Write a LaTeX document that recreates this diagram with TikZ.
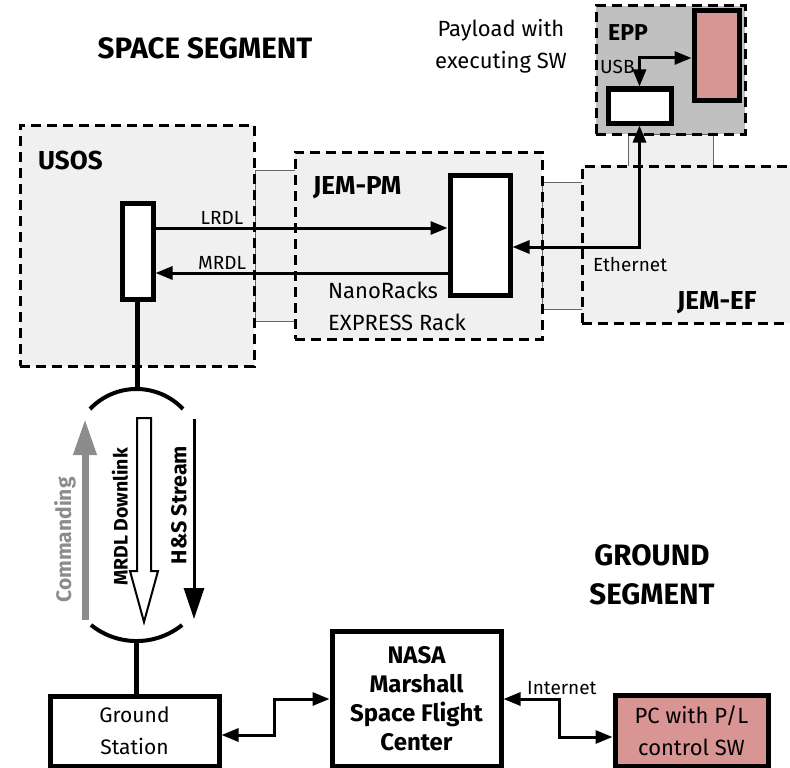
\documentclass[tikz,border=0pt]{standalone}
\usepackage{fontspec}
\setmainfont{Fira Sans}
\usetikzlibrary{arrows.meta}

\definecolor{bgbox}{HTML}{F0F0F0}
\definecolor{eppgray}{HTML}{C0C0C0}
\definecolor{plpink}{HTML}{D99494}
\definecolor{cmdgray}{HTML}{8C8C8C}

\tikzset{
	zone/.style={draw, line width=3pt, dash pattern=on 10pt off 6pt, fill=bgbox, inner sep=0pt},
	hwbox/.style={draw, line width=5pt, fill=white, inner sep=0pt},
	gbox/.style={draw, line width=5pt, fill=white, align=center, inner sep=0pt, font=\fontsize{21}{32}\selectfont},
	gasket/.style={draw=black!60, line width=1pt, fill=bgbox},
	conn/.style={line width=3pt},
	headtxt/.style={font=\bfseries\fontsize{29.5}{39}\selectfont, inner sep=0pt, align=center},
	zonetxt/.style={font=\bfseries\fontsize{26}{28}\selectfont, inner sep=0pt, anchor=west},
	txt/.style={font=\fontsize{22}{32}\selectfont, inner sep=0pt},
	lbl/.style={font=\fontsize{19}{20}\selectfont, inner sep=0pt},
	vtxt/.style={font=\bfseries\fontsize{21}{24}\selectfont, rotate=90, inner sep=0pt}
}

\begin{document}
\begin{tikzpicture}[x=1pt, y=-1pt, >={Triangle[length=17pt,width=13pt]}]
\useasboundingbox (0,0) rectangle (790,768);
\clip (0,0) rectangle (790,768);

\draw[gasket] (255,170) rectangle (295,321);
\draw[gasket] (542,182) rectangle (582,309);
\draw[gasket] (628,134) rectangle (713,166);

\node[zone, minimum width=234pt, minimum height=241pt] (usos) at (137,245.5) {};
\node[zone, minimum width=247pt, minimum height=187pt] (jempm) at (418.5,245.5) {};
\node[zone, minimum width=248pt, minimum height=157pt] (jemef) at (706,244.5) {};
\node[zone, fill=eppgray, minimum width=149pt, minimum height=128pt] (epp) at (670.5,70) {};

\node[hwbox, minimum width=31pt, minimum height=96pt] (usosunit) at (137.5,251) {};
\node[hwbox, minimum width=60pt, minimum height=120pt] (nrunit) at (480,235) {};
\node[hwbox, minimum width=63pt, minimum height=34pt] (eppunit) at (639.5,106) {};
\node[hwbox, fill=plpink, minimum width=45pt, minimum height=89pt] (payload) at (716.5,55.5) {};

\node[gbox, minimum width=169pt, minimum height=70pt] (gs) at (134.5,731) {Ground\\Station};
\node[gbox, font=\bfseries\fontsize{24}{29}\selectfont, minimum width=169pt, minimum height=135pt] (msfc) at (416.5,698.5) {NASA\\Marshall\\Space Flight\\Center};
\node[gbox, fill=plpink, font=\fontsize{22}{32}\selectfont, minimum width=153pt, minimum height=71pt] (pc) at (691.5,730.5) {PC with P/L\\control SW};

\draw[conn, ->] (usosunit.east |- 0,228) -- (nrunit.west |- 0,228);
\draw[conn, ->] (nrunit.west |- 0,273) -- (usosunit.east |- 0,273);
\draw[conn, <->] (payload.west |- 0,58) -| (eppunit.north);
\draw[conn, <->] (eppunit.south) |- (nrunit.east |- 0,247);

\coordinate (anttop) at (136.5,389);
\coordinate (antbot) at (136.5,641);
\draw[line width=4.5pt] (usosunit.south) -- (usosunit.south |- anttop);
\draw[line width=4pt] (90,409) arc[start angle=223.4, end angle=316.6, radius=64];
\draw[line width=4pt] (91,625) arc[start angle=128.8, end angle=51.2, radius=72.7];
\draw[line width=4.5pt] (antbot) -- (antbot |- gs.north);

\draw[conn, <->] (gs.east |- 0,735) -- (274,735) |- (msfc.west |- 0,699);
\draw[conn, <->] (msfc.east |- 0,699) -- (559,699) |- (pc.west |- 0,737);

\draw[cmdgray, line width=7pt, -{Triangle[length=36pt,width=22pt]}] (85,620) -- (85,419);
\draw[line width=2pt, fill=white] (137,418) -- (151,418) -- (151,571) -- (158,571) -- (144,622) -- (130,571) -- (137,571) -- cycle;
\draw[line width=3pt, -{Triangle[length=31pt,width=20pt]}] (194,419) -- (194,619);

\node[headtxt] (spaceseg) at (205,48) {SPACE SEGMENT};
\node[headtxt] (groundseg) at (652,575) {GROUND\\SEGMENT};
\node[txt, align=center] (plnote) at (501,46) {Payload with\\executing SW};
\node[txt, align=left, anchor=west] (nrlbl) at (328,306) {NanoRacks\\EXPRESS Rack};

\node[zonetxt] (usoslbl) at (38,160) {USOS};
\node[zonetxt] (jempmlbl) at (313,188) {JEM-PM};
\node[zonetxt] (jemeflbl) at (677,303) {JEM-EF};
\node[zonetxt, font=\bfseries\fontsize{23}{24}\selectfont] (epplbl) at (608,33) {EPP};

\node[lbl] (lrdl) at (222,218) {LRDL};
\node[lbl] (mrdl) at (222,263) {MRDL};
\node[lbl, anchor=west] (usb) at (600,67) {USB};
\node[lbl, anchor=west] (eth) at (593,265) {Ethernet};
\node[lbl, anchor=west] (inet) at (527,688) {Internet};

\node[vtxt, text=cmdgray] (cmdlbl) at (65,540) {Commanding};
\node[vtxt, font=\bfseries\fontsize{19.5}{24}\selectfont] (mrdldl) at (120,517) {MRDL Downlink};
\node[vtxt, font=\bfseries\fontsize{21.5}{24}\selectfont] (hsstream) at (179,505) {H\&S Stream};
\end{tikzpicture}
\end{document}
